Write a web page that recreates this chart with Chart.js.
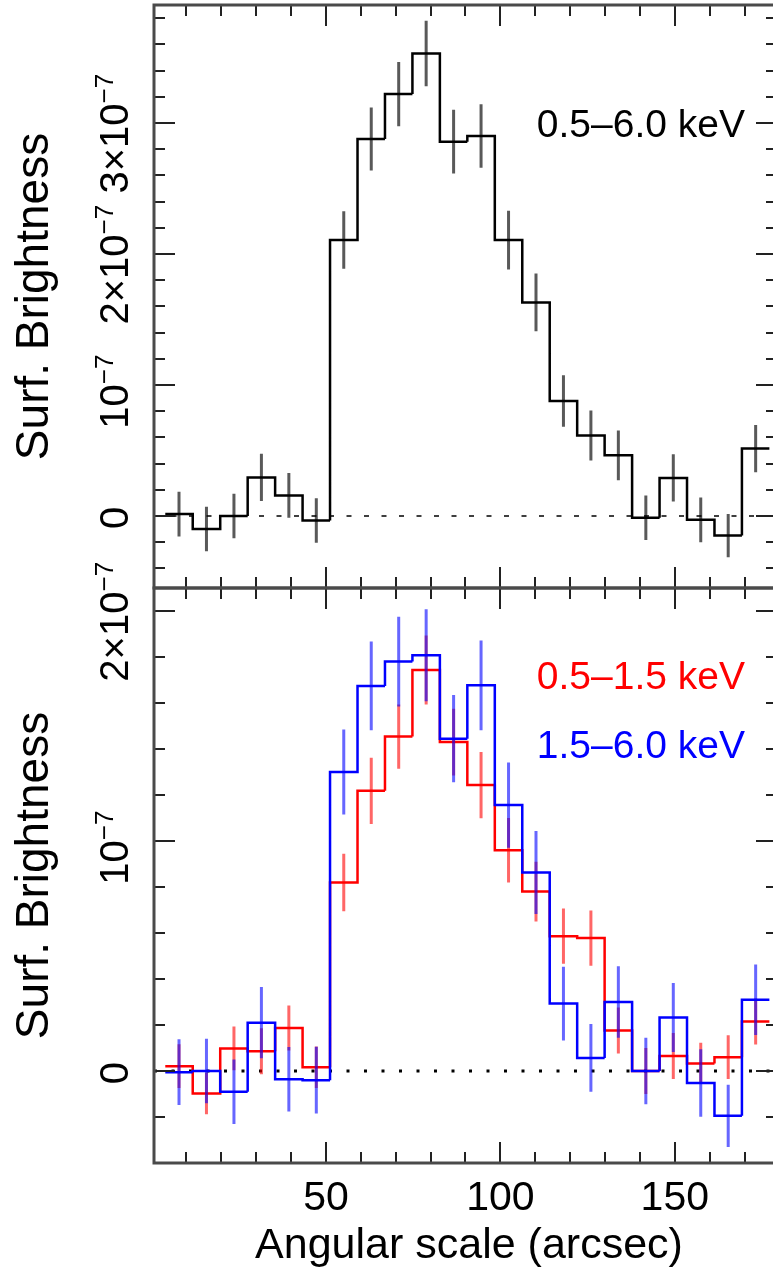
<!DOCTYPE html>
<html>
<head>
<meta charset="utf-8">
<script src="https://cdn.jsdelivr.net/npm/chart.js@4.4.1/dist/chart.umd.min.js"></script>
<style>
    html, body { margin: 0; padding: 0; background: #fff; overflow: hidden; width: 773px; height: 1272px; }
    canvas { position: absolute; left: 0; }
    #top-chart { top: 0; }
    #bottom-chart { top: 500px; }
</style>
</head>
<body>
<canvas id="top-chart" width="800" height="600"></canvas>
<canvas id="bottom-chart" width="800" height="772"></canvas>
<script>
// Bin centres in arcsec (16 pixel bins)
const binCenters = [7.87, 15.74, 23.62, 31.49, 39.36, 47.23, 55.10, 62.98, 70.85, 78.72, 86.59,
    94.46, 102.34, 110.21, 118.08, 125.95, 133.82, 141.70, 149.57, 157.44, 165.31, 173.18];
const binHalfWidth = 3.936;

// Surface brightness, in units of 1e-7
const fullBand = [0.014, -0.10, 0.0, 0.294, 0.157, -0.034, 2.106, 2.877, 3.22, 3.53, 2.857,
    2.90, 2.106, 1.63, 0.877, 0.614, 0.463, -0.014, 0.29, -0.03, -0.15, 0.514];
const fullBandErr = [0.17, 0.17, 0.17, 0.18, 0.17, 0.17, 0.22, 0.24, 0.245, 0.25, 0.243,
    0.243, 0.224, 0.22, 0.196, 0.19, 0.19, 0.17, 0.18, 0.17, 0.165, 0.18];

const softBand = [0.021, -0.098, 0.098, 0.086, 0.187, 0.016, 0.82, 1.218, 1.454, 1.743, 1.43,
    1.243, 0.96, 0.78, 0.586, 0.578, 0.176, 0.0, 0.065, 0.033, 0.06, 0.215];
const softBandErr = [0.095, 0.09, 0.095, 0.1, 0.098, 0.09, 0.125, 0.144, 0.14, 0.15, 0.145,
    0.144, 0.14, 0.13, 0.12, 0.12, 0.1, 0.1, 0.1, 0.09, 0.095, 0.1];

const hardBand = [-0.005, 0.0, -0.09, 0.21, -0.036, -0.04, 1.30, 1.674, 1.78, 1.808, 1.445,
    1.677, 1.156, 0.863, 0.293, 0.057, 0.30, 0.0, 0.233, -0.052, -0.195, 0.31];
const hardBandErr = [0.143, 0.14, 0.14, 0.155, 0.14, 0.145, 0.185, 0.193, 0.195, 0.2, 0.19,
    0.195, 0.185, 0.18, 0.16, 0.147, 0.155, 0.145, 0.15, 0.147, 0.135, 0.153];

// Axis labels
const xTickLabels = [50, 100, 150];
const topYLabels = [0, 1, 2, 3];
const bottomYLabels = [0, 1, 2];

const FONT = '"Liberation Sans", Arial, Helvetica, sans-serif';

// Turn bin values into a histogram outline
function stepPoints(values) {
    const pts = [];
    values.forEach((v, i) => {
        pts.push({ x: binCenters[i] - binHalfWidth, y: v });
        pts.push({ x: binCenters[i] + binHalfWidth, y: v });
    });
    return pts;
}

function stepDataset(values, errors, color, barColor) {
    return {
        data: stepPoints(values),
        borderColor: color,
        borderWidth: 2.5,
        pointRadius: 0,
        tension: 0,
        fill: false,
        errValues: values,
        errSizes: errors,
        errColor: barColor
    };
}

// Tick label parts: "0", "10^-7", "n x 10^-7"
function labelParts(v) {
    if (v === 0) return [{ t: '0' }];
    const base = v === 1 ? '10' : v + '\u00d710';
    return [{ t: base }, { t: '\u22127', sup: true }];
}

// Text rotated to read bottom-to-top; anchorX is the baseline
function drawRotated(ctx, anchorX, centerY, parts, size, shift) {
    ctx.save();
    ctx.translate(anchorX, centerY);
    ctx.rotate(-Math.PI / 2);
    ctx.textBaseline = 'alphabetic';
    ctx.textAlign = 'left';
    const supSize = Math.round(size * 0.65);
    let total = 0;
    parts.forEach(p => {
        ctx.font = (p.sup ? supSize : size) + 'px ' + FONT;
        p.w = ctx.measureText(p.t).width;
        total += p.w;
    });
    let pos = -total / 2 - total * (shift || 0);
    parts.forEach(p => {
        ctx.font = (p.sup ? supSize : size) + 'px ' + FONT;
        ctx.fillText(p.t, pos, p.sup ? -size * 0.38 : 0);
        pos += p.w;
    });
    ctx.restore();
}

const panelPlugin = {
    id: 'panel',
    beforeDatasetsDraw(chart, args, opts) {
        // dotted zero line
        const { ctx, chartArea: a, scales: { y } } = chart;
        const y0 = y.getPixelForValue(0);
        ctx.save();
        ctx.setLineDash(opts.zeroDash);
        ctx.lineWidth = opts.zeroWidth;
        ctx.strokeStyle = '#000';
        ctx.beginPath();
        ctx.moveTo(a.left, y0);
        ctx.lineTo(a.right, y0);
        ctx.stroke();
        ctx.restore();
    },
    afterDatasetDraw(chart, args) {
        // error bars for each bin
        const ds = chart.data.datasets[args.index];
        if (!ds.errSizes) return;
        const { ctx, chartArea: a, scales: { x, y } } = chart;
        ctx.save();
        ctx.beginPath();
        ctx.rect(a.left, a.top, a.width, a.height);
        ctx.clip();
        ctx.strokeStyle = ds.errColor;
        ctx.lineWidth = 3;
        ctx.beginPath();
        ds.errValues.forEach((v, i) => {
            const px = x.getPixelForValue(binCenters[i]);
            ctx.moveTo(px, y.getPixelForValue(v - ds.errSizes[i]));
            ctx.lineTo(px, y.getPixelForValue(v + ds.errSizes[i]));
        });
        ctx.stroke();
        ctx.restore();
    },
    afterDraw(chart, args, opts) {
        const { ctx, chartArea: a, scales: { x, y } } = chart;
        ctx.save();
        // ticks, pointing inwards on all four sides
        ctx.strokeStyle = '#222';
        ctx.lineWidth = 2;
        ctx.beginPath();
        for (let v = 10; v < x.max; v += 10) {
            const px = Math.round(x.getPixelForValue(v));
            const len = v % 50 === 0 ? 21 : 11;
            ctx.moveTo(px, a.top);
            ctx.lineTo(px, a.top + len);
            ctx.moveTo(px, a.bottom);
            ctx.lineTo(px, a.bottom - len);
        }
        for (let i = Math.ceil(y.min * 5); i <= Math.floor(y.max * 5); i++) {
            const py = Math.round(y.getPixelForValue(i / 5));
            const len = i % 5 === 0 ? 21 : 11;
            ctx.moveTo(a.left, py);
            ctx.lineTo(a.left + len, py);
            ctx.moveTo(a.right, py);
            ctx.lineTo(a.right - len, py);
        }
        ctx.stroke();

        // frame
        ctx.strokeStyle = '#4a4a4a';
        ctx.lineWidth = 3;
        ctx.strokeRect(a.left, a.top, a.width, a.height);

        // y tick labels and title
        ctx.fillStyle = '#000';
        opts.yLabels.forEach(v => {
            drawRotated(ctx, 128, y.getPixelForValue(v), labelParts(v), 40, 0.09);
        });
        drawRotated(ctx, 48, (a.top + a.bottom) / 2, [{ t: 'Surf. Brightness' }], 46, 0);

        // band labels
        ctx.textAlign = 'right';
        ctx.textBaseline = 'middle';
        ctx.font = '39px ' + FONT;
        opts.notes.forEach(n => {
            ctx.fillStyle = n.color;
            ctx.fillText(n.text, 745, n.y);
        });

        // x tick labels and title (bottom panel only)
        if (opts.xAxis) {
            ctx.fillStyle = '#000';
            ctx.textAlign = 'center';
            ctx.textBaseline = 'alphabetic';
            ctx.font = '41px ' + FONT;
            xTickLabels.forEach(v => {
                ctx.fillText(String(v), x.getPixelForValue(v), a.bottom + 47);
            });
            ctx.font = '43px ' + FONT;
            ctx.fillText('Angular scale (arcsec)', 469, a.bottom + 95);
        }
        ctx.restore();
    }
};

function makePanel(id, datasets, yMin, yMax, padding, opts) {
    return new Chart(document.getElementById(id), {
        type: 'line',
        data: { datasets: datasets },
        options: {
            responsive: false,
            animation: false,
            devicePixelRatio: 1,
            layout: { padding: padding },
            scales: {
                x: { type: 'linear', min: 0.7, max: 179.3, display: false },
                y: { type: 'linear', min: yMin, max: yMax, display: false }
            },
            plugins: {
                legend: { display: false },
                tooltip: { enabled: false },
                panel: opts
            }
        },
        plugins: [panelPlugin]
    });
}

document.addEventListener('DOMContentLoaded', function() {
    // Top panel: full band
    makePanel('top-chart',
        [stepDataset(fullBand, fullBandErr, '#000', 'rgba(0,0,0,0.65)')],
        -0.55, 3.9,
        { left: 154, top: 5, right: 23, bottom: 12 },
        {
            yLabels: topYLabels,
            zeroDash: [5, 12.5],
            zeroWidth: 1.5,
            notes: [{ text: '0.5\u20136.0 keV', color: '#000', y: 126 }],
            xAxis: false
        });

    // Bottom panel: soft and hard bands (blue first so it is drawn on top)
    makePanel('bottom-chart',
        [
            stepDataset(hardBand, hardBandErr, '#0000ff', 'rgba(0,0,255,0.6)'),
            stepDataset(softBand, softBandErr, '#ff0000', 'rgba(255,0,0,0.6)')
        ],
        -0.4, 2.1,
        { left: 154, top: 88, right: 23, bottom: 109 },
        {
            yLabels: bottomYLabels,
            zeroDash: [3, 14.5],
            zeroWidth: 3,
            notes: [
                { text: '0.5\u20131.5 keV', color: '#ff0000', y: 178 },
                { text: '1.5\u20136.0 keV', color: '#0000ff', y: 247 }
            ],
            xAxis: true
        });
});
</script>
</body>
</html>
